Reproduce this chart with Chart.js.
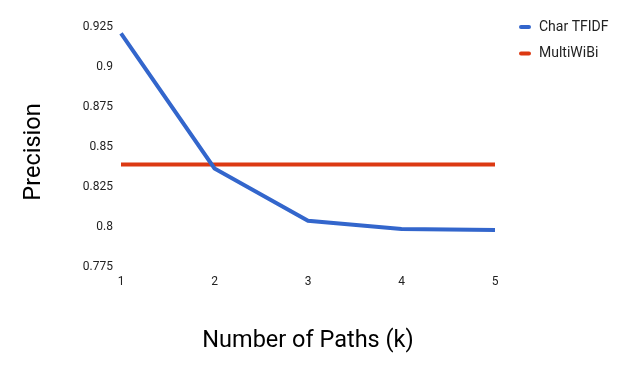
<!DOCTYPE html>
<html>
<head>
<meta charset="utf-8">
<script src="https://cdn.jsdelivr.net/npm/chart.js@4"></script>
<style>
html,body{margin:0;padding:0;background:#fff;}
#wrap{width:628px;height:371px;position:relative;}
</style>
</head>
<body>
<div id="wrap"><canvas id="c" width="628" height="371"></canvas></div>
<script>
const categories = ['1', '2', '3', '4', '5'];
const charTfidf = [0.921, 0.8365, 0.8037, 0.7986, 0.7979];
const multiWiBi = [0.839, 0.839, 0.839, 0.839, 0.839];
const yTicks = [0.775, 0.8, 0.825, 0.85, 0.875, 0.9, 0.925];
const seriesNames = ['Char TFIDF', 'MultiWiBi'];
const seriesColors = ['#3366cc', '#dc3912'];
const yTitle = 'Precision';
const xTitle = 'Number of Paths (k)';

const FONT = 'Roboto, "Noto Sans", sans-serif';

const legendPlugin = {
  id: 'customLegend',
  afterDraw(chart) {
    const ctx = chart.ctx;
    ctx.save();
    chart.data.datasets.forEach((ds, i) => {
      const y = 27 + i * 26.6;
      ctx.strokeStyle = ds.borderColor;
      ctx.lineWidth = 4;
      ctx.lineCap = 'round';
      ctx.beginPath();
      ctx.moveTo(521, y);
      ctx.lineTo(529, y);
      ctx.stroke();
      ctx.fillStyle = '#222222';
      ctx.font = '14px ' + FONT;
      ctx.textBaseline = 'middle';
      ctx.textAlign = 'left';
      ctx.fillText(ds.label, 539, y);
    });
    // y-axis title
    ctx.translate(34, 152);
    ctx.rotate(-Math.PI / 2);
    ctx.fillStyle = '#000000';
    ctx.font = '23.5px ' + FONT;
    ctx.textAlign = 'center';
    ctx.textBaseline = 'middle';
    ctx.fillText(yTitle, 0, 0);
    ctx.restore();
  }
};

new Chart(document.getElementById('c'), {
  type: 'line',
  data: {
    labels: categories,
    datasets: [
      { label: seriesNames[0], data: charTfidf, borderColor: seriesColors[0], backgroundColor: seriesColors[0], borderWidth: 4, pointRadius: 0, tension: 0, fill: false },
      { label: seriesNames[1], data: multiWiBi, borderColor: seriesColors[1], backgroundColor: seriesColors[1], borderWidth: 4, pointRadius: 0, tension: 0, fill: false }
    ]
  },
  options: {
    responsive: false,
    animation: false,
    devicePixelRatio: 1,
    layout: { padding: { left: 10, right: 133, top: 27, bottom: 16 } },
    plugins: { legend: { display: false }, tooltip: { enabled: false } },
    scales: {
      x: {
        offset: false,
        grid: { display: false, drawTicks: false },
        border: { display: false },
        ticks: { color: '#222222', font: { family: FONT, size: 12 }, padding: 8, maxRotation: 0 },
        title: { display: true, text: xTitle, color: '#000000', font: { family: FONT, size: 23.5 }, padding: { top: 0, bottom: 0 } },
        afterFit(s) { s.height = 371 - 16 - 266.7; }
      },
      y: {
        min: 0.775,
        max: 0.925,
        afterBuildTicks(s) { s.ticks = yTicks.map(v => ({ value: v })); },
        grid: { display: false, drawTicks: false },
        border: { display: false },
        ticks: { color: '#222222', font: { family: FONT, size: 12 }, padding: 8, callback: v => String(+v.toFixed(3)) },
        title: { display: false },
        afterFit(s) { s.width = 121 - 10; }
      }
    }
  },
  plugins: [legendPlugin]
});
</script>
</body>
</html>
